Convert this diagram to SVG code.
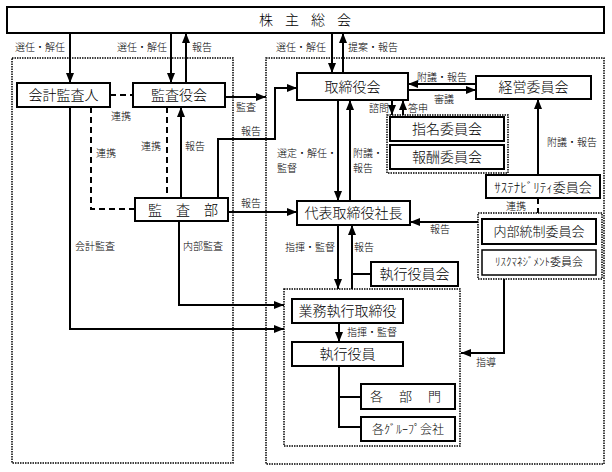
<svg xmlns="http://www.w3.org/2000/svg" width="612" height="472" viewBox="0 0 612 472">
<defs>
<style>
text{font-family:"Noto Sans CJK JP","Noto Sans",sans-serif;fill:#000;font-weight:300}
.bx{fill:#fff;stroke:#000;stroke-width:2}
.bt{font-size:14px;text-anchor:middle}
.lb{font-size:10px}
.grp{fill:none;stroke:#000;stroke-width:1.5;stroke-dasharray:1.5 1}
.ln{fill:none;stroke:#000;stroke-width:2}
.ar{fill:none;stroke:#000;stroke-width:2;marker-end:url(#ah)}
.ds{fill:none;stroke:#000;stroke-width:2;stroke-dasharray:6 4}
</style>
<marker id="ah" markerWidth="10" markerHeight="8" refX="10" refY="4" orient="auto" markerUnits="userSpaceOnUse">
<path d="M0,0 L10,4 L0,8 z" fill="#000"/>
</marker>
</defs>
<rect width="612" height="472" fill="#fff"/>

<g id="groups">
<rect class="grp" x="12" y="58" width="221" height="405"/>
<rect class="grp" x="266" y="58" width="338" height="406"/>
<rect class="grp" x="387" y="115" width="121" height="58"/>
<rect class="grp" x="478" y="213" width="124" height="66"/>
<rect class="grp" x="284" y="289" width="176" height="157"/>
</g>

<g id="connectors">
<path class="ar" d="M70,33 V83"/>
<path class="ar" d="M171,33 V83"/>
<path class="ar" d="M186,83 V33"/>
<path class="ar" d="M332,33 V73"/>
<path class="ar" d="M343,73 V33"/>
<path class="ar" d="M225,97 H266"/>
<path class="ar" d="M218,198 V139 H275 V88 H297"/>
<path class="ar" d="M181,198 V107"/>
<path class="ds" d="M110,95 H133"/>
<path class="ds" d="M91,107 V209 H135"/>
<path class="ds" d="M167,107 V198"/>
<path class="ar" d="M228,212 H297"/>
<path class="ar" d="M179,221 V305 H284"/>
<path class="ar" d="M70,107 V329 H284"/>
<path class="ar" d="M476,84 H408"/>
<path class="ar" d="M408,90 H476"/>
<path class="ar" d="M392,100 V115"/>
<path class="ar" d="M403,115 V100"/>
<path class="ar" d="M338,100 V201"/>
<path class="ar" d="M350,201 V100"/>
<path class="ar" d="M538,175 V99"/>
<path class="ds" d="M538,198 V213"/>
<path class="ar" d="M478,222 H410"/>
<path class="ar" d="M338,225 V289"/>
<path class="ar" d="M352,289 V225"/>
<path class="ln" d="M371,274 H352"/>
<path class="ar" d="M339,323 V342"/>
<path class="ln" d="M339,366 V427 H361 M339,397 H361"/>
<path class="ar" d="M504,279 V353 H461"/>
</g>

<g id="labels">
<text class="lb" x="15" y="51">選任・解任</text>
<text class="lb" x="117" y="51">選任・解任</text>
<text class="lb" x="192" y="51">報告</text>
<text class="lb" x="276" y="51">選任・解任</text>
<text class="lb" x="348" y="51">提案・報告</text>
<text class="lb" x="236" y="111">監査</text>
<text class="lb" x="241" y="135">報告</text>
<text class="lb" x="111" y="120">連携</text>
<text class="lb" x="96" y="157">連携</text>
<text class="lb" x="141" y="150">連携</text>
<text class="lb" x="185" y="150">報告</text>
<text class="lb" x="241" y="207">報告</text>
<text class="lb" x="75" y="250">会計監査</text>
<text class="lb" x="183" y="250">内部監査</text>
<text class="lb" x="417" y="81">附議・報告</text>
<text class="lb" x="434" y="103">審議</text>
<text class="lb" x="369" y="112">諮問</text>
<text class="lb" x="408" y="112">答申</text>
<text class="lb" x="277" y="157">選定・解任・</text>
<text class="lb" x="277" y="172">監督</text>
<text class="lb" x="353" y="157">附議・</text>
<text class="lb" x="353" y="172">報告</text>
<text class="lb" x="547" y="146">附議・報告</text>
<text class="lb" x="506" y="210">連携</text>
<text class="lb" x="430" y="233">報告</text>
<text class="lb" x="285" y="251">指揮・監督</text>
<text class="lb" x="354" y="251">報告</text>
<text class="lb" x="347" y="336">指揮・監督</text>
<text class="lb" x="476" y="366">指導</text>
</g>

<g id="n-soukai"><rect class="bx" x="7" y="7" width="597" height="26"/><text x="259" y="25" style="font-size:14px;letter-spacing:12px">株主総会</text></g>
<g id="n-kaikei"><rect class="bx" x="17" y="83" width="93" height="24"/><text class="bt" x="63.5" y="100">会計監査人</text></g>
<g id="n-kansayaku"><rect class="bx" x="133" y="83" width="92" height="24"/><text class="bt" x="179" y="100">監査役会</text></g>
<g id="n-kansabu"><rect class="bx" x="135" y="198" width="93" height="23"/><text x="148" y="215" style="font-size:14px;letter-spacing:14px">監査部</text></g>
<g id="n-torishimari"><rect class="bx" x="297" y="73" width="111" height="27"/><text class="bt" x="352.5" y="92">取締役会</text></g>
<g id="n-keiei"><rect class="bx" x="476" y="76" width="115" height="23"/><text class="bt" x="533.5" y="92">経営委員会</text></g>
<g id="n-shimei"><rect class="bx" x="390" y="117" width="114" height="24"/><text class="bt" x="447" y="134">指名委員会</text></g>
<g id="n-houshu"><rect class="bx" x="390" y="145" width="114" height="24"/><text class="bt" x="447" y="162">報酬委員会</text></g>
<g id="n-daihyo"><rect class="bx" x="297" y="201" width="113" height="24"/><text class="bt" x="353.5" y="218">代表取締役社長</text></g>
<g id="n-sustain"><rect class="bx" x="486" y="175" width="114" height="23"/><text class="bt" x="543" y="192" style="font-size:13px">ｻｽﾃﾅﾋﾞﾘﾃｨ委員会</text></g>
<g id="n-naibu"><rect class="bx" x="482" y="219" width="114" height="25"/><text class="bt" x="539" y="236" style="font-size:13px">内部統制委員会</text></g>
<g id="n-risk"><rect class="bx" x="482" y="250" width="114" height="25" style="stroke-width:1.5"/><text class="bt" x="539" y="266" style="font-size:11px">ﾘｽｸﾏﾈｼﾞﾒﾝﾄ委員会</text></g>
<g id="n-shikkoukai"><rect class="bx" x="371" y="262" width="87" height="24"/><text class="bt" x="414.5" y="279">執行役員会</text></g>
<g id="n-gyomu"><rect class="bx" x="292" y="299" width="111" height="24"/><text class="bt" x="347.5" y="316">業務執行取締役</text></g>
<g id="n-shikkou"><rect class="bx" x="292" y="342" width="111" height="24"/><text class="bt" x="347.5" y="359">執行役員</text></g>
<g id="n-kakubumon"><rect class="bx" x="361" y="384" width="94" height="25"/><text x="370" y="401" style="font-size:13px;letter-spacing:16px">各部門</text></g>
<g id="n-group"><rect class="bx" x="361" y="417" width="94" height="24"/><text class="bt" x="408" y="434" style="font-size:12px">各ｸﾞﾙｰﾌﾟ会社</text></g>
</svg>
